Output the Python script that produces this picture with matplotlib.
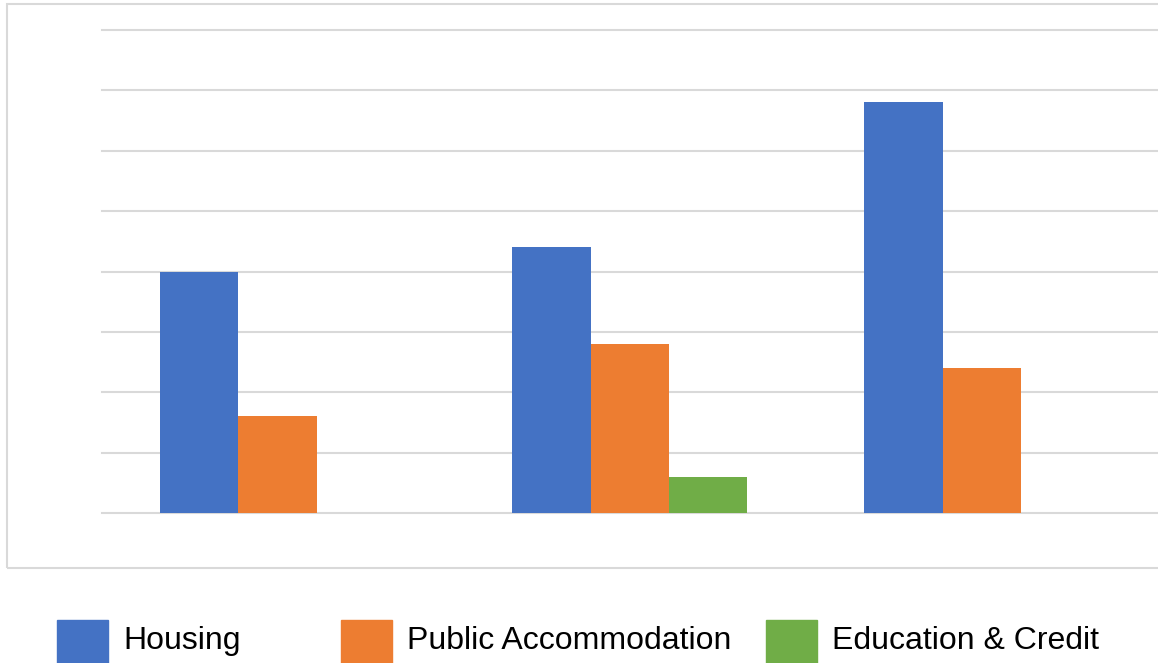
import matplotlib.pyplot as plt
import matplotlib.patches as mpatches
import numpy as np

# --- data ---
categories = ["Group 1", "Group 2", "Group 3"]
series = ["Housing", "Public Accommodation", "Education & Credit"]
housing = [20, 22, 34]
public_accommodation = [8, 14, 12]
education_credit = [0, 3, 0]
colors = ["#4472C4", "#ED7D31", "#70AD47"]

W, H = 1158, 663
fig = plt.figure(figsize=(W / 100, H / 100), dpi=100)
ax = fig.add_axes([101.5 / W, 150 / H, 1 - 101.5 / W, (513 - 30) / H])

x = np.arange(len(categories))
bw = 78.5 / 352.5
values = [housing, public_accommodation, education_credit]
for i, (vals, c) in enumerate(zip(values, colors)):
    ax.bar(x + (i - 1) * bw, vals, width=bw, color=c, zorder=3)

ax.set_xlim(-0.5, len(categories) - 0.5)
ax.set_ylim(0, 40)
ax.set_yticks(np.arange(0, 41, 5))
ax.yaxis.grid(True, color="#d9d9d9", linewidth=1.5, zorder=0)
for gl in ax.get_ygridlines():
    gl.set_clip_on(False)
ax.tick_params(left=False, bottom=False, labelleft=False, labelbottom=False)
for s in ax.spines.values():
    s.set_visible(False)

# outer chart border (cut off on the right)
fig.patches.append(mpatches.Rectangle((7 / W, 1 - 568 / H), 1.2, (568 - 4) / H,
                                      transform=fig.transFigure, fill=False,
                                      edgecolor="#d9d9d9", linewidth=1.5))

# legend below the border
leg_x = [57, 341, 766]
for lx, name, c in zip(leg_x, series, colors):
    fig.patches.append(mpatches.Rectangle((lx / W, 1 - 671 / H), 51 / W, 51 / H,
                                          transform=fig.transFigure, color=c))
    fig.text((lx + 66) / W, 1 - 641 / H, name, fontsize=23, va="center",
             family="Liberation Sans")

fig.savefig("out.png", dpi=100)
